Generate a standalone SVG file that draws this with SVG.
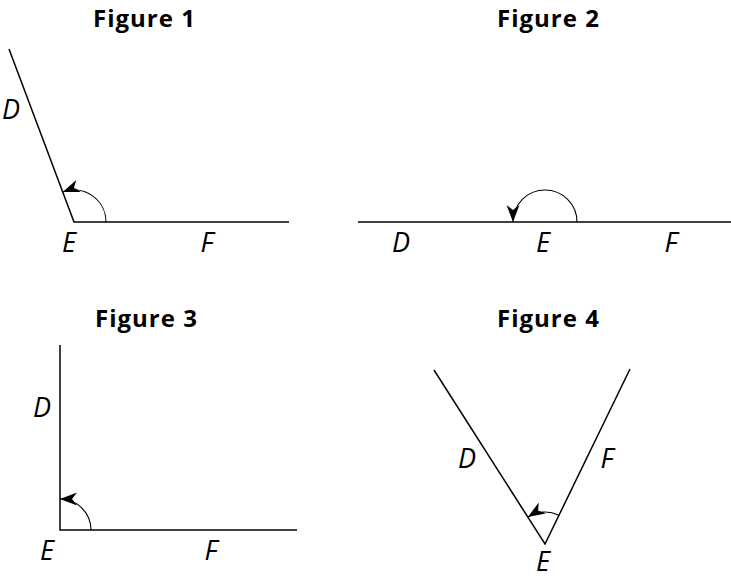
<svg xmlns="http://www.w3.org/2000/svg" width="731" height="579" viewBox="0 0 731 579">
<style>
.title{font-family:"Open Sans","Liberation Sans",sans-serif;font-weight:700;font-size:24px;letter-spacing:1px;fill:#000}
.lbl{font-family:"Open Sans","Liberation Sans",sans-serif;font-style:italic;font-size:27px;fill:#000;text-anchor:middle}
.ray{stroke:#000;stroke-width:1.5;fill:none}
.arc{stroke:#000;stroke-width:1.1;fill:none;marker-end:url(#ah)}
</style>
<defs>
<marker id="ah" markerUnits="userSpaceOnUse" markerWidth="22" markerHeight="16" viewBox="-19 -8 21 16" refX="0" refY="0" orient="auto">
<path d="M0,0 L-17,-6.5 L-12,0 L-17,6.5 Z" fill="#000"/>
</marker>
</defs>
<rect width="731" height="579" fill="#fff"/>
<g id="figure1">
<text class="title" x="93" y="27">Figure 1</text>
<path class="ray" d="M9,49 L74,222 L289,222"/>
<path class="arc" d="M106,222 A32,32 0 0 0 62.7,192"/>
<text class="lbl" x="11" y="119">D</text>
<text class="lbl" x="69" y="252">E</text>
<text class="lbl" x="207" y="252">F</text>
</g>
<g id="figure2">
<text class="title" x="497" y="27">Figure 2</text>
<path class="ray" d="M358,222 L731,222"/>
<path class="arc" d="M577,222 A32,32 0 0 0 513,222"/>
<text class="lbl" x="401" y="252">D</text>
<text class="lbl" x="543" y="252">E</text>
<text class="lbl" x="671" y="252">F</text>
</g>
<g id="figure3">
<text class="title" x="95" y="327">Figure 3</text>
<path class="ray" d="M60,345 L60,530 L297,530"/>
<path class="arc" d="M91,530 A31,31 0 0 0 60,499"/>
<text class="lbl" x="42" y="417">D</text>
<text class="lbl" x="47" y="560">E</text>
<text class="lbl" x="211" y="560">F</text>
</g>
<g id="figure4">
<text class="title" x="497" y="327">Figure 4</text>
<path class="ray" d="M434,370 L545,544 L630,369"/>
<path class="arc" d="M558.9,515.2 A32,32 0 0 0 527.9,517"/>
<text class="lbl" x="467" y="468">D</text>
<text class="lbl" x="607" y="468">F</text>
<text class="lbl" x="543" y="571">E</text>
</g>
</svg>
